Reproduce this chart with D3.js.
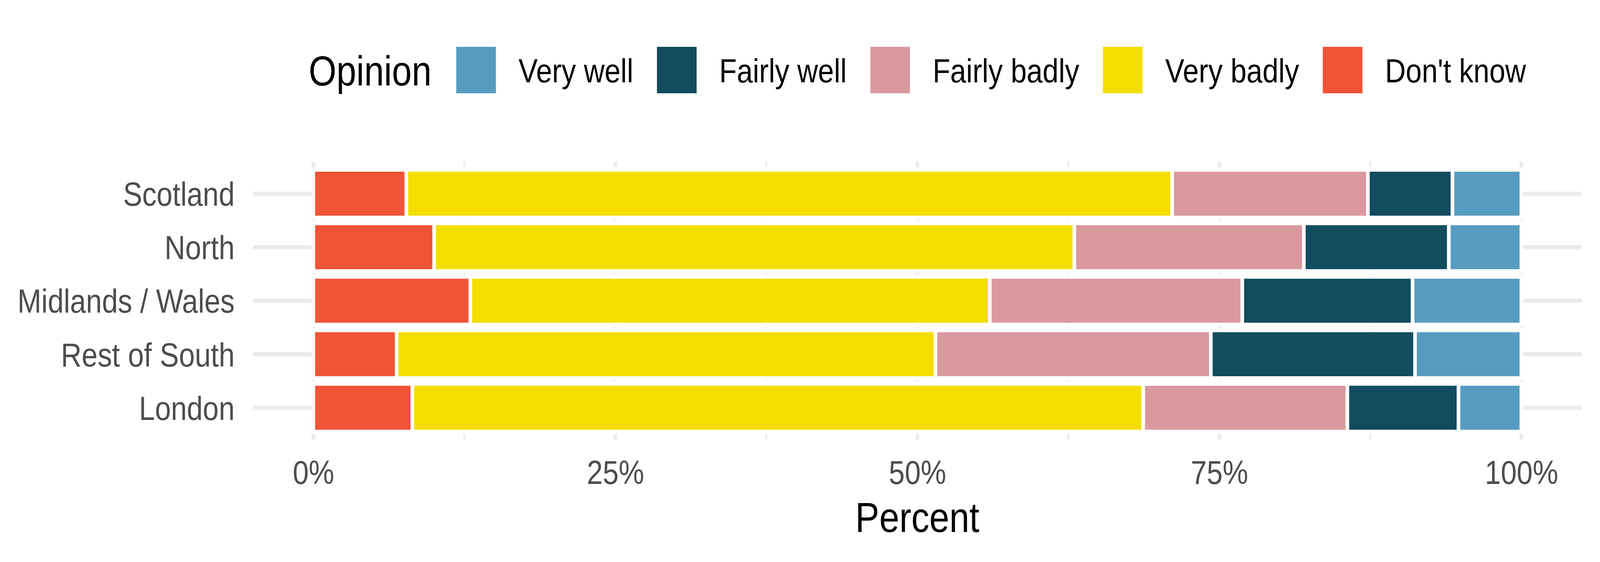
<!DOCTYPE html>
<html>
<head>
<meta charset="utf-8">
<script src="https://cdn.jsdelivr.net/npm/d3@7"></script>
<style>
  html, body { margin: 0; padding: 0; background: #ffffff; overflow: hidden; }
  svg { display: block; width: 100vw; height: 100vh; font-family: "Liberation Sans", Arial, Helvetica, sans-serif; }
</style>
</head>
<body>
<svg id="chart" viewBox="0 0 4800 1440" preserveAspectRatio="none"></svg>
<script>
// ---- Data ----
const regions = ["Scotland", "North", "Midlands / Wales", "Rest of South", "London"];
const opinions = ["Don't know", "Very badly", "Fairly badly", "Fairly well", "Very well"]; // stacked left to right
const legendOrder = ["Very well", "Fairly well", "Fairly badly", "Very badly", "Don't know"];
const dontKnow    = [7.7, 10.0, 13.0, 6.9, 8.2];
const veryBadly   = [63.4, 53.0, 43.0, 44.6, 60.5];
const fairlyBadly = [16.2, 19.0, 20.9, 22.8, 16.9];
const fairlyWell  = [7.0, 12.0, 14.1, 16.9, 9.2];
const veryWell    = [5.7, 6.0, 9.0, 8.8, 5.2];
const colours = ["#F05336", "#F4DE00", "#DA999F", "#124C5F", "#579CC0"];
const xTicks = [0, 0.25, 0.5, 0.75, 1];
const xMinorTicks = [0.125, 0.375, 0.625, 0.875];
const legendTitle = "Opinion";
const xTitle = "Percent";

// ---- Build table ----
const seriesValues = [dontKnow, veryBadly, fairlyBadly, fairlyWell, veryWell];
const rows = regions.map((r, i) => {
  const o = { region: r };
  opinions.forEach((k, j) => { o[k] = seriesValues[j][i]; });
  return o;
});

const svg = d3.select("#chart");
const x = d3.scaleLinear().domain([0, 1]).range([940, 4564]);
const y = d3.scaleBand().domain(regions).range([414, 1127]).paddingInner(0.1).paddingOuter(0.15);
const colour = d3.scaleOrdinal().domain(opinions).range(colours);

const panelLeft = x(-0.05), panelRight = x(1.05);
const panelTop = y.range()[0], panelBottom = y.range()[1];
const gridColour = "#EBEBEB";

// background
svg.append("rect").attr("x", 0).attr("y", 0).attr("width", 4800).attr("height", 1440).attr("fill", "#ffffff");

// gridlines
const grid = svg.append("g");
grid.selectAll("line.minor").data(xMinorTicks).join("line")
  .attr("x1", d => x(d)).attr("x2", d => x(d))
  .attr("y1", panelTop).attr("y2", panelBottom)
  .attr("stroke", gridColour).attr("stroke-width", 5.3);
grid.selectAll("line.majorx").data(xTicks).join("line")
  .attr("x1", d => x(d)).attr("x2", d => x(d))
  .attr("y1", panelTop).attr("y2", panelBottom)
  .attr("stroke", gridColour).attr("stroke-width", 10.7);
grid.selectAll("line.majory").data(regions).join("line")
  .attr("x1", panelLeft).attr("x2", panelRight)
  .attr("y1", d => y(d) + y.bandwidth() / 2).attr("y2", d => y(d) + y.bandwidth() / 2)
  .attr("stroke", gridColour).attr("stroke-width", 10.7);

// stacked bars (normalized)
const stack = d3.stack().keys(opinions).offset(d3.stackOffsetExpand);
const stacked = stack(rows);
svg.append("g").selectAll("g").data(stacked).join("g")
  .attr("fill", d => colour(d.key))
  .selectAll("rect").data(d => d).join("rect")
  .attr("x", d => x(d[0]))
  .attr("width", d => x(d[1]) - x(d[0]))
  .attr("y", d => y(d.data.region))
  .attr("height", y.bandwidth())
  .attr("stroke", "#ffffff")
  .attr("stroke-width", 10.7);

// x axis
const xAxis = svg.append("g")
  .attr("transform", `translate(0,${panelBottom})`)
  .call(d3.axisBottom(x).tickValues(xTicks).tickFormat(d3.format(".0%")).tickSize(0));
xAxis.select(".domain").remove();
xAxis.selectAll("text")
  .attr("y", 1240 - panelBottom).attr("dy", null)
  .attr("font-size", 86).attr("fill", "#4D4D4D")
  .attr("font-family", "'Liberation Sans', Arial, Helvetica, sans-serif");

// y axis
const yAxis = svg.append("g")
  .attr("transform", `translate(${panelLeft},0)`)
  .call(d3.axisLeft(y).tickSize(0).tickPadding(panelLeft - 704));
yAxis.select(".domain").remove();
yAxis.selectAll("text")
  .attr("dy", "0.36em")
  .attr("font-size", 86).attr("fill", "#4D4D4D")
  .attr("font-family", "'Liberation Sans', Arial, Helvetica, sans-serif");

// x title
svg.append("text")
  .attr("x", (panelLeft + panelRight) / 2).attr("y", 1363)
  .attr("text-anchor", "middle").attr("font-size", 108).attr("fill", "#000")
  .text(xTitle);

// legend
const legend = svg.append("g");
const keySize = 119, keyTop = 120;
const titleEl = legend.append("text").attr("y", 219).attr("font-size", 107).attr("fill", "#000").text(legendTitle);
let cursor = 0;
const titleW = titleEl.node().getComputedTextLength();
titleEl.attr("x", cursor);
cursor += titleW + 74;
legendOrder.forEach((k, i) => {
  legend.append("rect")
    .attr("x", cursor).attr("y", keyTop).attr("width", keySize).attr("height", keySize)
    .attr("fill", colour(k));
  cursor += keySize + 68;
  const t = legend.append("text").attr("x", cursor).attr("y", 211)
    .attr("font-size", 86).attr("fill", "#000").text(k);
  cursor += t.node().getComputedTextLength();
  if (i < legendOrder.length - 1) cursor += 71;
});
const legendCentre = (panelLeft + panelRight) / 2;
legend.attr("transform", `translate(${legendCentre - cursor / 2},0)`);
</script>
</body>
</html>
